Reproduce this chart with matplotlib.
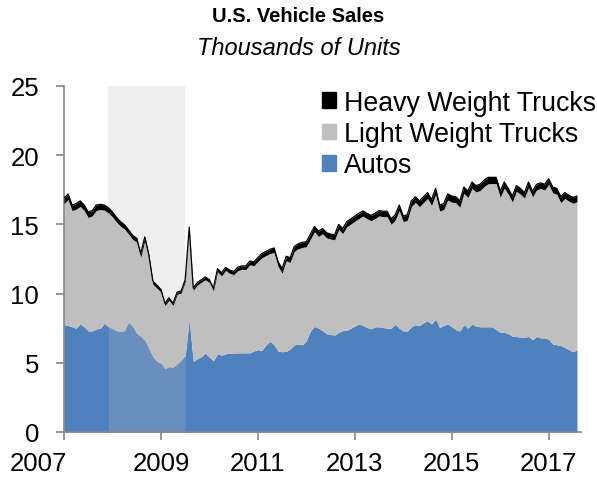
import numpy as np
import matplotlib
matplotlib.use("Agg")
import matplotlib.pyplot as plt
import matplotlib.transforms as mtransforms
from matplotlib.patches import Patch

plt.rcParams['font.family'] = ['Liberation Sans', 'DejaVu Sans']

# monthly, Jan 2007 .. Aug 2017
autos = [7.75, 7.7, 7.6, 7.5, 7.8, 7.6, 7.3, 7.3, 7.45, 7.5, 7.85, 7.6,
         7.45, 7.3, 7.25, 7.3, 7.9, 7.6, 7.1, 6.9, 6.6, 6.0, 5.4, 5.1,
         4.95, 4.55, 4.7, 4.65, 4.9, 5.15, 5.5, 8.1, 5.1, 5.3, 5.45, 5.7,
         5.4, 5.15, 5.65, 5.55, 5.65, 5.7, 5.7, 5.72, 5.72, 5.72, 5.72, 5.85,
         5.95, 5.9, 6.3, 6.55, 6.3, 5.85, 5.8, 5.83, 6.0, 6.3, 6.35, 6.3,
         6.6, 7.3, 7.63, 7.5, 7.33, 7.1, 7.05, 7.0, 7.2, 7.32, 7.35, 7.5,
         7.65, 7.8, 7.7, 7.55, 7.45, 7.6, 7.6, 7.55, 7.5, 7.5, 7.8, 7.5,
         7.3, 7.3, 7.6, 7.75, 7.7, 7.9, 8.04, 7.8, 8.16, 7.55, 7.7, 7.8,
         7.6, 7.4, 7.3, 7.75, 7.5, 7.8, 7.65, 7.6, 7.6, 7.6, 7.6, 7.4,
         7.2, 7.2, 7.1, 6.92, 6.9, 6.85, 6.85, 6.9, 6.67, 6.9, 6.8, 6.8,
         6.7, 6.35, 6.3, 6.25, 6.1, 5.95, 5.8, 5.93]

# top edge of the stack (autos + light + heavy)
total = [16.9, 17.2, 16.4, 16.5, 16.7, 16.4, 15.9, 16.0, 16.4, 16.45, 16.4, 16.2,
         15.9, 15.5, 15.2, 14.96, 14.6, 14.2, 14.0, 12.9, 14.1, 12.8, 10.9, 10.6,
         10.3, 9.3, 9.7, 9.3, 10.1, 10.2, 11.0, 14.8, 10.4, 10.8, 11.0, 11.2,
         11.0, 10.4, 11.8, 11.5, 11.9, 11.7, 11.6, 11.9, 12.0, 12.0, 12.35, 12.3,
         12.6, 12.9, 13.05, 13.2, 13.3, 12.3, 11.8, 12.7, 12.6, 13.4, 13.6, 13.7,
         13.75, 14.3, 14.85, 14.5, 14.7, 14.4, 14.3, 14.25, 15.0, 14.7, 15.2, 15.4,
         15.6, 15.8, 15.97, 15.8, 15.65, 15.8, 16.0, 15.95, 15.95, 15.4, 15.7, 16.4,
         15.6, 15.7, 16.7, 17.0, 16.7, 17.0, 17.3, 16.8, 17.6, 16.4, 16.5, 17.2,
         17.05, 17.0, 16.7, 17.7, 17.4, 18.06, 17.8, 17.9, 18.2, 18.4, 18.4, 18.4,
         17.4, 18.06, 17.6, 17.05, 17.8, 17.6, 17.3, 18.06, 17.4, 17.9, 18.0, 17.9,
         18.3, 17.7, 17.6, 17.0, 17.3, 17.1, 16.95, 17.05]

heavy = [0.4, 0.4, 0.4, 0.4, 0.4, 0.4, 0.4, 0.38, 0.38, 0.38, 0.37, 0.37,
         0.35, 0.33, 0.32, 0.3, 0.3, 0.28, 0.28, 0.26, 0.25, 0.24, 0.22, 0.2,
         0.18, 0.17, 0.17, 0.16, 0.16, 0.16, 0.16, 0.16, 0.17, 0.18, 0.18, 0.2,
         0.2, 0.2, 0.22, 0.22, 0.22, 0.23, 0.24, 0.24, 0.25, 0.26, 0.27, 0.28,
         0.28, 0.3, 0.3, 0.31, 0.32, 0.32, 0.33, 0.33, 0.34, 0.35, 0.36, 0.36,
         0.36, 0.36, 0.37, 0.37, 0.37, 0.37, 0.36, 0.36, 0.36, 0.36, 0.37, 0.37,
         0.37, 0.37, 0.37, 0.38, 0.38, 0.38, 0.38, 0.39, 0.39, 0.39, 0.39, 0.4,
         0.4, 0.4, 0.41, 0.41, 0.42, 0.42, 0.42, 0.42, 0.43, 0.43, 0.43, 0.44,
         0.44, 0.44, 0.45, 0.45, 0.45, 0.45, 0.45, 0.46, 0.46, 0.46, 0.45, 0.45,
         0.44, 0.43, 0.42, 0.42, 0.41, 0.41, 0.4, 0.4, 0.4, 0.4, 0.4, 0.41,
         0.41, 0.41, 0.42, 0.42, 0.42, 0.42, 0.42, 0.42]

recession = (2007 + 11 / 12, 2009 + 6 / 12)
years = [2007, 2009, 2011, 2013, 2015, 2017]
labels = ['Heavy Weight Trucks', 'Light Weight Trucks', 'Autos']
colors = ['black', '#BFBFBF', '#4F81BD']

x = 2007 + np.arange(len(autos)) / 12
autos = np.array(autos)
total = np.array(total)
heavy = np.array(heavy)
light_top = total - heavy

fig = plt.figure(figsize=(5.97, 4.81), dpi=100)
ax = fig.add_axes([64 / 597, 48 / 481, 517 / 597, 346 / 481])

ax.axvspan(*recession, color='#EEEEEE', lw=0, zorder=0)
ax.fill_between(x, 0, autos, color=colors[2], lw=0, zorder=2)
inrec = (x >= recession[0]) & (x <= recession[1])
ax.fill_between(x, 0, autos, where=inrec, color='#6A8FBD', lw=0, zorder=2.5)
ax.fill_between(x, autos, light_top, color=colors[1], lw=0, zorder=2)
ax.fill_between(x, light_top, total, color=colors[0], lw=0, zorder=3)
ax.plot(x, total, color='black', lw=0.9, zorder=3)

ax.set_xlim(2007, 2007 + 128 / 12)
ax.set_ylim(0, 25)
ax.set_xticks(years)
ax.set_xticklabels([str(y) for y in years])
ax.set_yticks(range(0, 26, 5))
for s in ['top', 'right']:
    ax.spines[s].set_visible(False)
for s in ['left', 'bottom']:
    ax.spines[s].set_color('#868686')
    ax.spines[s].set_linewidth(1.2)
ax.tick_params(axis='both', colors='#868686', labelcolor='black', labelsize=18.5,
               length=6, width=1.2, direction='out')
ax.tick_params(axis='x', pad=8)
ax.tick_params(axis='y', pad=12)

# first year label sits left of its tick in the original
first = ax.get_xticklabels()[0]
first.set_transform(first.get_transform() +
                    mtransforms.ScaledTranslation(-26 / 100, 0, fig.dpi_scale_trans))

handles = [Patch(color=c, label=l) for c, l in zip(colors, labels)]
fig.legend(handles=handles, loc='upper left', bbox_to_anchor=(322 / 597, 0.8114),
           frameon=False, fontsize=19.3, handlelength=0.52, handleheight=0.52,
           handletextpad=0.3, labelspacing=0.2, borderaxespad=0, borderpad=0)

fig.text(0.5, 0.965, 'U.S. Vehicle Sales', ha='center', va='center',
         fontsize=14.5, fontweight='bold')
fig.text(0.5, 0.9, 'Thousands of Units', ha='center', va='center',
         fontsize=17, style='italic')

fig.savefig('out.png', dpi=100)
